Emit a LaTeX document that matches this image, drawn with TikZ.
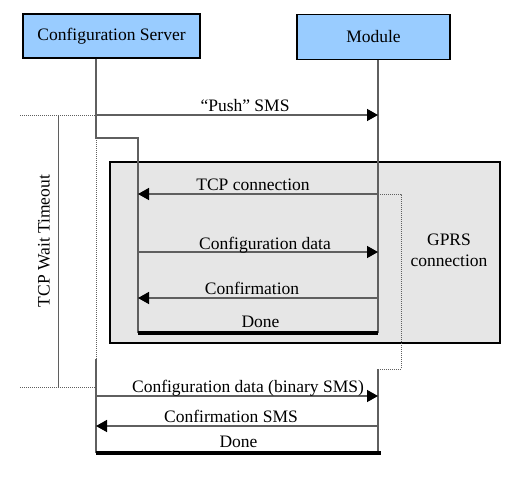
\documentclass[tikz,border=0pt]{standalone}
\usepackage{fontspec}
\setmainfont{Liberation Serif}
\usetikzlibrary{arrows.meta}

\definecolor{boxblue}{RGB}{153,204,255}
\definecolor{gprsgray}{RGB}{230,230,230}
\definecolor{linegray}{RGB}{95,95,95}

\begin{document}
\begin{tikzpicture}[x=1pt, y=-1pt, font=\fontsize{17.5}{21}\selectfont,
    actor/.style={draw, line width=1.2pt, fill=boxblue, inner sep=0pt},
    life/.style={line width=1.4pt, color=linegray},
    wait/.style={line width=1pt, densely dotted, color=linegray},
    msg/.style={line width=1.4pt, color=linegray, -{Triangle[length=11pt, width=12pt, color=black]}},
    donebar/.style={line width=3.5pt, color=black},
    lbl/.style={anchor=base, yshift=3.5pt, inner sep=0pt, text=black}]
    \useasboundingbox (0,0) rectangle (530,480);

    % GPRS region
    \filldraw[fill=gprsgray, draw=black, line width=1.2pt] (110,162) rectangle (500,343);
    \node[align=center] (gprs) at (449,250) {GPRS\\connection};

    \node[actor, minimum width=177pt, minimum height=44pt] (server) at (111.5,36) {Configuration Server};
    \node[actor, minimum width=153pt, minimum height=45pt] (module) at (373.5,37) {Module};

    % server lifeline
    \coordinate (s1) at (96,138);
    \coordinate (s2) at (138,138);
    \coordinate (s3) at (138,333);
    \coordinate (s4) at (96,359);
    \coordinate (s5) at (96,453);
    \draw[life] (server.south -| s1) -- (s1) -- (s2) -- (s3);
    \draw[wait] (s1) -- (s4);
    \draw[life] (s4) -- (s5);

    % module lifeline
    \coordinate (m0) at (378,333);
    \coordinate (m1) at (378,194);
    \coordinate (m2) at (401,194);
    \coordinate (m3) at (401,369);
    \coordinate (m4) at (378,369);
    \coordinate (m5) at (378,453);
    \draw[life] (module.south -| m0) -- (m0);
    \draw[wait] (m1) -- (m2) -- (m3) -- (m4);
    \draw[life] (m4) -- (m5);

    % TCP wait timeout
    \coordinate (t1) at (20,115);
    \coordinate (t2) at (58,115);
    \coordinate (t3) at (58,387);
    \coordinate (t4) at (20,387);
    \coordinate (t5) at (96,387);
    \coordinate (p1) at (96,115);
    \draw[wait] (t1) -- (p1);
    \draw[wait] (t4) -- (t5);
    \draw[line width=1pt, color=linegray] (t2) -- (t3);
    \node[rotate=90] (timeout) at (44,241) {TCP Wait Timeout};

    % messages
    \coordinate (p2) at (378,115);
    \draw[msg] (p1) -- node[lbl, xshift=8pt] (lpush) {“Push” SMS} (p2);

    \coordinate (c1) at (138,194);
    \draw[msg] (m1) -- node[lbl, xshift=-5pt] (ltcp) {TCP connection} (c1);

    \coordinate (c2) at (138,252);
    \coordinate (c3) at (378,252);
    \draw[msg] (c2) -- node[lbl, xshift=7pt, yshift=-0.5pt] (lcfg) {Configuration data} (c3);

    \coordinate (c4) at (378,298);
    \coordinate (c5) at (138,298);
    \draw[msg] (c4) -- node[lbl, xshift=-6pt] (lconf) {Confirmation} (c5);

    \draw[donebar] (s3) -- node[lbl, yshift=2.5pt, xshift=2.5pt] (ldone) {Done} (m0);

    \coordinate (b1) at (96,396);
    \coordinate (b2) at (378,396);
    \draw[msg] (b1) -- node[lbl, xshift=11pt, yshift=0.5pt] (lbin) {Configuration data (binary SMS)} (b2);

    \coordinate (b3) at (378,426);
    \coordinate (b4) at (96,426);
    \draw[msg] (b3) -- node[lbl, xshift=-6pt, yshift=0.5pt] (lsms) {Confirmation SMS} (b4);

    \coordinate (b5) at (381,453);
    \draw[donebar] (s5) -- node[lbl, yshift=2pt] (ldone2) {Done} (b5);
\end{tikzpicture}
\end{document}
